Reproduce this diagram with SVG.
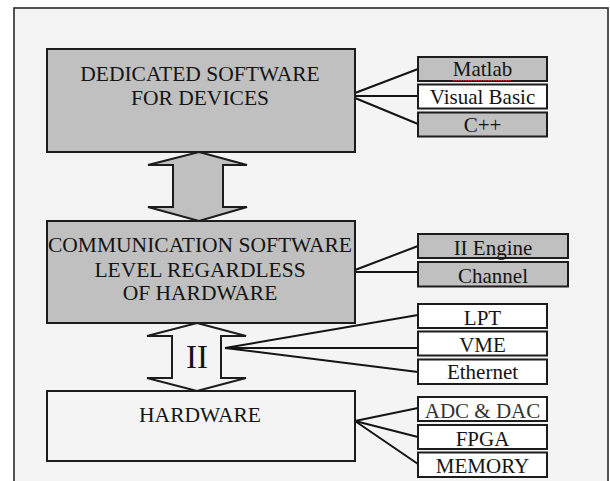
<svg xmlns="http://www.w3.org/2000/svg" width="610" height="481" viewBox="0 0 610 481">
  <style>
    .frame { fill: #f4f4f4; stroke: #2a2a2a; stroke-width: 1.6; }
    .box { stroke: #1c1c1c; stroke-width: 2; }
    .gray { fill: #c0c0c0; }
    .white { fill: #ffffff; }
    .plain { fill: #f4f4f4; }
    .big { font-family: "Liberation Serif", "Times New Roman", serif; font-size: 21.5px; fill: #141414; text-anchor: middle; }
    .small { font-family: "Liberation Serif", "Times New Roman", serif; font-size: 21px; fill: #141414; text-anchor: middle; }
    .link { stroke: #141414; stroke-width: 2; fill: none; }
    .arrow { stroke: #1c1c1c; stroke-width: 2; stroke-linejoin: miter; }
  </style>

  <!-- outer frame -->
  <rect class="frame" x="14" y="8" width="594" height="500"/>

  <!-- connectors -->
  <g id="connectors">
    <!-- software -> languages -->
    <line class="link" x1="355" y1="93" x2="418" y2="69"/>
    <line class="link" x1="355" y1="96" x2="418" y2="96"/>
    <line class="link" x1="355" y1="98" x2="418" y2="124"/>
    <!-- communication level -> engine / channel -->
    <line class="link" x1="355" y1="270" x2="418" y2="246"/>
    <line class="link" x1="355" y1="272" x2="418" y2="272"/>
    <!-- II interface -> buses -->
    <line class="link" x1="225" y1="348" x2="418" y2="315"/>
    <line class="link" x1="225" y1="348" x2="418" y2="348"/>
    <line class="link" x1="225" y1="348" x2="418" y2="372"/>
    <!-- hardware -> components -->
    <line class="link" x1="355" y1="421" x2="418" y2="408"/>
    <line class="link" x1="355" y1="421" x2="418" y2="437"/>
    <line class="link" x1="355" y1="421" x2="418" y2="464"/>
    <!-- double arrow between software layers -->
    <polygon class="arrow gray" points="199,152 247,165 223,165 223,207 247,207 199,221 148,207 173,207 173,165 148,165"/>
    <!-- II double arrow between communication level and hardware -->
    <polygon class="arrow plain" points="197,323 246,336 221,336 221,378 246,378 197,391 147,378 172,378 172,336 147,336"/>
    <text x="197" y="368" style="font-family: 'Liberation Serif', 'Times New Roman', serif; font-size: 33px; fill: #141414; text-anchor: middle;">II</text>
  </g>

  <g id="dedicated-software">
    <rect class="box gray" x="47" y="49" width="308" height="103"/>
    <text class="big" x="200" y="81">DEDICATED SOFTWARE</text>
    <text class="big" x="200" y="104.5">FOR DEVICES</text>
  </g>

  <g id="matlab">
    <rect class="box gray" x="418" y="57" width="129" height="24"/>
    <text class="small" x="482.5" y="76">Matlab</text>
    <line x1="453" y1="80.5" x2="511" y2="80.5" stroke="#d22" stroke-width="1" stroke-dasharray="1.5,1"/>
  </g>
  <g id="visual-basic">
    <rect class="box white" x="418" y="84.5" width="129" height="24"/>
    <text class="small" x="482.5" y="103.5">Visual Basic</text>
  </g>
  <g id="cpp">
    <rect class="box gray" x="418" y="112.5" width="129" height="24"/>
    <text class="small" x="482.5" y="131.5">C++</text>
  </g>

  <g id="communication-software">
    <rect class="box gray" x="47" y="221" width="308" height="102"/>
    <text class="big" x="200" y="252">COMMUNICATION SOFTWARE</text>
    <text class="big" x="200" y="276.5">LEVEL REGARDLESS</text>
    <text class="big" x="200" y="299.5">OF HARDWARE</text>
  </g>

  <g id="ii-engine">
    <rect class="box gray" x="418" y="234" width="150" height="24"/>
    <text class="small" x="493" y="254.5">II Engine</text>
  </g>
  <g id="channel">
    <rect class="box gray" x="418" y="262" width="150" height="24.5"/>
    <text class="small" x="493" y="282.5">Channel</text>
  </g>

  <g id="lpt">
    <rect class="box white" x="418" y="304" width="129" height="24"/>
    <text class="small" x="482.5" y="325">LPT</text>
  </g>
  <g id="vme">
    <rect class="box white" x="418" y="331.5" width="129" height="24"/>
    <text class="small" x="482.5" y="351.5">VME</text>
  </g>
  <g id="ethernet">
    <rect class="box white" x="418" y="359.5" width="129" height="24.5"/>
    <text class="small" x="482.5" y="379">Ethernet</text>
  </g>

  <g id="hardware">
    <rect class="box plain" x="47" y="391" width="308" height="70"/>
    <text class="big" x="200" y="421.5">HARDWARE</text>
  </g>

  <g id="adc-dac">
    <rect class="box white" x="418" y="397" width="129" height="24"/>
    <text class="small" x="482.5" y="418" style="fill:#333">ADC &amp; DAC</text>
  </g>
  <g id="fpga">
    <rect class="box white" x="418" y="425" width="129" height="24"/>
    <text class="small" x="482.5" y="445.5">FPGA</text>
  </g>
  <g id="memory">
    <rect class="box white" x="418" y="452.5" width="129" height="24.5"/>
    <text class="small" x="482.5" y="473">MEMORY</text>
  </g>
</svg>
